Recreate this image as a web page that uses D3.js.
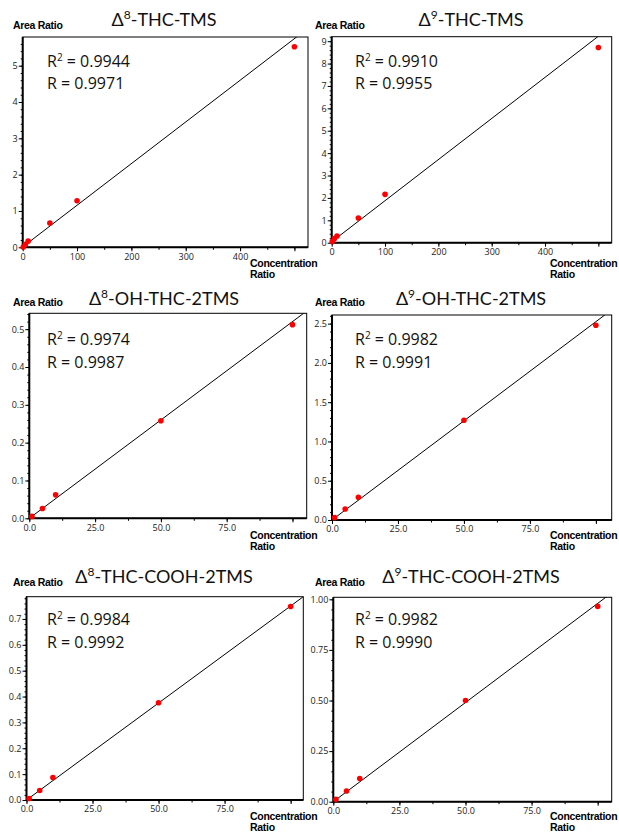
<!DOCTYPE html>
<meta charset="utf-8">
<style>
body { margin: 0; background: #fff; }
svg { font-family: "Open Sans", "Liberation Sans", sans-serif; }
.frame { fill: none; stroke: #000; stroke-width: 1px; }
.axis line { stroke: #000; stroke-width: 1px; }
.axis text { font-size: 9px; fill: #222; font-family: "Open Sans", sans-serif; }
.fit { fill: none; stroke: #000; stroke-width: 1px; }
.dot { fill: #ff0000; }
.title { font-size: 18px; text-anchor: middle; fill: #111; font-family: Lato, sans-serif; }
.stat { font-size: 16px; fill: #111; }
.lab { font-size: 10.5px; font-weight: bold; font-family: "Liberation Sans", sans-serif; letter-spacing: -0.3px; }
</style>
<svg width="619" height="832"></svg>
<script src="https://d3js.org/d3.v7.min.js"></script>
<script>
// titles: Δ + superscript + rest
var titleSup  = ["8", "9", "8", "9", "8", "9"];
var titleRest = ["-THC-TMS", "-THC-TMS", "-OH-THC-2TMS", "-OH-THC-2TMS", "-THC-COOH-2TMS", "-THC-COOH-2TMS"];
var r2Values  = ["0.9944", "0.9910", "0.9974", "0.9982", "0.9984", "0.9982"];
var rValues   = ["0.9971", "0.9955", "0.9987", "0.9991", "0.9992", "0.9990"];

// concentration ratio (x)
var concTHC   = [1, 5, 10, 50, 100, 500];
var concMetab = [1, 5, 10, 50, 100];

// area ratio (y)
var area8THC  = [0.01, 0.08, 0.17, 0.67, 1.28, 5.52];
var area9THC  = [0.05, 0.18, 0.30, 1.10, 2.16, 8.72];
var area8OH   = [0.005, 0.026, 0.062, 0.258, 0.512];
var area9OH   = [0.03, 0.14, 0.29, 1.27, 2.48];
var area8COOH = [0.006, 0.037, 0.087, 0.376, 0.748];
var area9COOH = [0.012, 0.053, 0.115, 0.50, 0.965];

// regression lines
var fitSlope     = [0.01147, 0.01836, 0.0052, 0.02525, 0.0075, 0.0098];
var fitIntercept = [0.01, 0.04, 0, 0, 0, 0];

// axis ranges and ticks
var xMax = [525, 525, 105.4, 106, 104.8, 105.3];
var yMax = [5.79, 9.2, 0.542, 2.61, 0.786, 1.01];
var xTicksTHC   = [0, 100, 200, 300, 400, 500];
var xTicksMetab = [0, 25, 50, 75, 100];
var xMinorStep  = [50, 50, 12.5, 12.5, 12.5, 12.5];
var yTickStep   = [1, 1, 0.1, 0.5, 0.1, 0.25];
var yMinorStep  = [0.2, 0.2, 0.02, 0.1, 0.02, 0.05];
var yFormat     = ["d", "d", ".1f", ".1f", ".1f", ".2f"];

var panels = [
    {x: concTHC,   y: area8THC,  xt: xTicksTHC,   xf: "d"},
    {x: concTHC,   y: area9THC,  xt: xTicksTHC,   xf: "d"},
    {x: concMetab, y: area8OH,   xt: xTicksMetab, xf: ".1f"},
    {x: concMetab, y: area9OH,   xt: xTicksMetab, xf: ".1f"},
    {x: concMetab, y: area8COOH, xt: xTicksMetab, xf: ".1f"},
    {x: concMetab, y: area9COOH, xt: xTicksMetab, xf: ".1f"}
];

// layout (pixels)
var boxes = [
    {x0: 22.7,  x1: 308,   y0: 37,    y1: 247.3},
    {x0: 331.7, x1: 611.7, y0: 36.7,  y1: 242.7},
    {x0: 29.3,  x1: 306.7, y0: 313.3, y1: 518.3},
    {x0: 332,   x1: 611.7, y0: 315,   y1: 520},
    {x0: 26.5,  x1: 303.3, y0: 596.7, y1: 800},
    {x0: 333.3, x1: 611.7, y0: 597.3, y1: 801.7}
];
var colTitleX = [164, 471];
var colLabelX = [13, 315];
var colStatX  = [47, 355];
var colConcX  = [250, 550];
var rowTitleY = [26, 305, 583];
var rowLabelY = [29, 306, 586];
var rowStatY  = [66.7, 345, 625];
var rowConcY  = [267, 539, 820];

var svg = d3.select("svg");

function range(step, max) {
    var out = [];
    for (var v = 0; v <= max + 1e-9; v += step) out.push(+v.toFixed(6));
    return out;
}

panels.forEach(function(p, i) {
    var b = boxes[i], col = i % 2, row = Math.floor(i / 2);

    var xScale = d3.scaleLinear().domain([0, xMax[i]]).range([b.x0, b.x1]);
    var yScale = d3.scaleLinear().domain([0, yMax[i]]).range([b.y1, b.y0]);
    var g = svg.append("g");

    // title
    var t = g.append("text").attr("class", "title")
        .attr("x", colTitleX[col]).attr("y", rowTitleY[row]);
    t.append("tspan").text("\u0394");
    t.append("tspan").attr("dy", -7).attr("font-size", "12px").text(titleSup[i]);
    t.append("tspan").attr("dy", 7).text(titleRest[i]);

    g.append("text").attr("class", "lab")
        .attr("x", colLabelX[col]).attr("y", rowLabelY[row]).text("Area Ratio");
    g.append("text").attr("class", "lab")
        .attr("x", colConcX[col]).attr("y", rowConcY[row]).text("Concentration");
    g.append("text").attr("class", "lab")
        .attr("x", colConcX[col]).attr("y", rowConcY[row] + 11).text("Ratio");

    // frame
    g.append("rect").attr("class", "frame")
        .attr("x", b.x0).attr("y", b.y0)
        .attr("width", b.x1 - b.x0).attr("height", b.y1 - b.y0);

    // minor ticks
    g.append("g").attr("class", "axis")
        .attr("transform", "translate(0," + b.y1 + ")")
        .call(d3.axisBottom(xScale).tickValues(range(xMinorStep[i], xMax[i]))
            .tickSize(2.5).tickFormat(""));
    g.append("g").attr("class", "axis")
        .attr("transform", "translate(" + b.x0 + ",0)")
        .call(d3.axisLeft(yScale).tickValues(range(yMinorStep[i], yMax[i]))
            .tickSize(2).tickFormat(""));

    // major ticks
    var xf = d3.format(p.xf), last = p.xt[p.xt.length - 1];
    g.append("g").attr("class", "axis")
        .attr("transform", "translate(0," + b.y1 + ")")
        .call(d3.axisBottom(xScale).tickValues(p.xt).tickSize(4).tickPadding(2)
            .tickFormat(function(d) { return d === last ? "" : xf(d); }));
    g.append("g").attr("class", "axis")
        .attr("transform", "translate(" + b.x0 + ",0)")
        .call(d3.axisLeft(yScale).tickValues(range(yTickStep[i], yMax[i]))
            .tickSize(4).tickPadding(1).tickFormat(d3.format(yFormat[i])));
    g.selectAll(".axis path").remove();
    g.append("line").attr("x1", b.x0).attr("x2", b.x0).attr("y1", b.y0).attr("y2", b.y1)
        .style("stroke", "#000").style("stroke-width", 2);
    g.append("line").attr("x1", b.x0).attr("x2", b.x1).attr("y1", b.y1).attr("y2", b.y1)
        .style("stroke", "#000").style("stroke-width", 2);

    // regression line clipped to the plot box
    g.append("clipPath").attr("id", "clip" + i).append("rect")
        .attr("x", b.x0).attr("y", b.y0)
        .attr("width", b.x1 - b.x0).attr("height", b.y1 - b.y0);
    var line = d3.line()
        .x(function(d) { return xScale(d); })
        .y(function(d) { return yScale(fitIntercept[i] + fitSlope[i] * d); });
    g.append("path").attr("class", "fit")
        .attr("clip-path", "url(#clip" + i + ")")
        .attr("d", line([0, xMax[i]]));

    // points
    g.selectAll("circle")
        .data(p.x.map(function(d, k) { return {x: d, y: p.y[k]}; }))
        .enter().append("circle")
        .attr("class", "dot")
        .attr("r", 2.8)
        .attr("cx", function(d) { return xScale(d.x); })
        .attr("cy", function(d) { return yScale(d.y); });

    // stats
    var s1 = g.append("text").attr("class", "stat")
        .attr("x", colStatX[col]).attr("y", rowStatY[row]);
    s1.append("tspan").text("R");
    s1.append("tspan").attr("dy", -6).attr("font-size", "10px").text("2");
    s1.append("tspan").attr("dy", 6).text(" = " + r2Values[i]);
    g.append("text").attr("class", "stat")
        .attr("x", colStatX[col]).attr("y", rowStatY[row] + 22.5)
        .text("R = " + rValues[i]);
});
</script>
